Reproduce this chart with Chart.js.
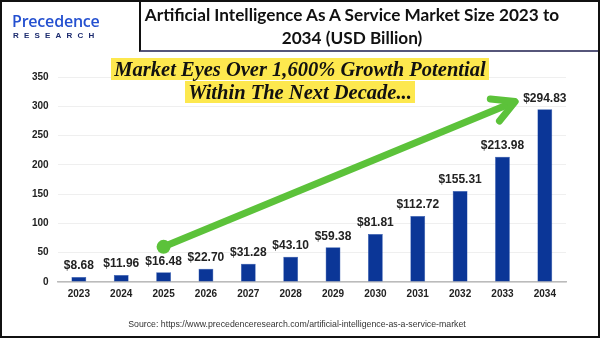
<!DOCTYPE html>
<html>
<head>
<meta charset="utf-8">
<script src="https://cdn.jsdelivr.net/npm/chart.js@4.4.1/dist/chart.umd.min.js"></script>
<style>
    html, body { margin: 0; padding: 0; background: #fff; }
    #wrap { position: relative; width: 600px; height: 338px; overflow: hidden; background: #fff; }
    #frame { position: absolute; left: 0; top: 0; width: 600px; height: 338px; box-sizing: border-box; border: 2px solid #111; pointer-events: none; }
    #titleBox { position: absolute; left: 139px; top: 0; width: 461px; height: 52px; box-sizing: border-box; border-left: 2px solid #111; border-bottom: 2px solid #56567a; }
    #title { position: absolute; left: 104px; top: 3px; width: 496px; text-align: center; font-family: Lato, sans-serif; font-weight: 700; font-size: 17.2px; line-height: 23px; color: #111; }
    #logo1 { position: absolute; left: 12px; top: 11px; font-family: "Open Sans", sans-serif; font-weight: 600; font-size: 16px; line-height: 20px; color: #2450d0; letter-spacing: -0.2px; }
    #logo2 { position: absolute; left: 13px; top: 31px; font-family: "Liberation Sans", sans-serif; font-weight: 700; font-size: 8px; line-height: 9px; color: #1b2a6e; letter-spacing: 5.2px; }
    #banner { position: absolute; left: 0; top: 58px; width: 600px; text-align: center; font-family: "Liberation Serif", serif; font-style: italic; font-weight: 700; font-size: 20.5px; line-height: 23px; color: #111; }
    #banner span { background: #fde84e; padding: 0 3px; }
    #source { position: absolute; left: 0; top: 319px; width: 594px; text-align: center; font-family: "Liberation Sans", sans-serif; font-size: 8.75px; color: #333; }
    canvas { position: absolute; left: 0; top: 0; }
</style>
</head>
<body>
<div id="wrap">
    <canvas id="marketChart" width="600" height="338"></canvas>
    <div id="titleBox"></div>
    <div id="logo1">Precedence</div>
    <div id="logo2">RESEARCH</div>
    <div id="title">Artificial Intelligence As A Service Market Size 2023 to<br>2034 (USD Billion)</div>
    <div id="banner"><span>Market Eyes Over 1,600% Growth Potential</span><br><span>Within The Next Decade...</span></div>
    <div id="source">Source: https://www.precedenceresearch.com/artificial-intelligence-as-a-service-market</div>
    <div id="frame"></div>
</div>
<script>
const years = ["2023", "2024", "2025", "2026", "2027", "2028", "2029", "2030", "2031", "2032", "2033", "2034"];
const marketSize = [8.68, 11.96, 16.48, 22.70, 31.28, 43.10, 59.38, 81.81, 112.72, 155.31, 213.98, 294.83];
const yTicks = [0, 50, 100, 150, 200, 250, 300, 350];
// growth arrow, in data units (category index, value)
const arrowFrom = [2, 60];
const arrowTo = [10.3, 308];

// value labels above each bar
const barLabels = {
    id: "barLabels",
    afterDatasetsDraw(chart) {
        const ctx = chart.ctx;
        const meta = chart.getDatasetMeta(0);
        ctx.save();
        ctx.font = "bold 12px 'Liberation Sans', Arial, sans-serif";
        ctx.fillStyle = "#222";
        ctx.textAlign = "center";
        ctx.textBaseline = "bottom";
        meta.data.forEach((bar, i) => {
            ctx.fillText("$" + marketSize[i].toFixed(2), bar.x, bar.y - 5);
        });
        ctx.restore();
    }
};

// green arrow
const growthArrow = {
    id: "growthArrow",
    afterDatasetsDraw(chart) {
        const ctx = chart.ctx;
        const xs = chart.scales.x, ys = chart.scales.y;
        const x1 = xs.getPixelForValue(arrowFrom[0]), y1 = ys.getPixelForValue(arrowFrom[1]);
        const x2 = xs.getPixelForValue(arrowTo[0]), y2 = ys.getPixelForValue(arrowTo[1]);
        const ang = Math.atan2(y2 - y1, x2 - x1);
        const back = ang + Math.PI;
        const len = 25, spread = 0.5;
        ctx.save();
        ctx.strokeStyle = "#5cc23a";
        ctx.fillStyle = "#5cc23a";
        ctx.lineWidth = 7;
        ctx.lineCap = "round";
        ctx.lineJoin = "round";
        ctx.beginPath();
        ctx.moveTo(x1, y1);
        ctx.lineTo(x2 - 3 * Math.cos(ang), y2 - 3 * Math.sin(ang));
        ctx.stroke();
        ctx.beginPath();
        ctx.moveTo(x2 + len * Math.cos(back - spread), y2 + len * Math.sin(back - spread));
        ctx.lineTo(x2, y2);
        ctx.lineTo(x2 + len * Math.cos(back + spread), y2 + len * Math.sin(back + spread));
        ctx.stroke();
        ctx.beginPath();
        ctx.arc(x1, y1, 7, 0, Math.PI * 2);
        ctx.fill();
        ctx.restore();
    }
};

const ctx = document.getElementById("marketChart");
new Chart(ctx, {
    type: "bar",
    data: {
        labels: years,
        datasets: [{
            label: "Market Size",
            data: marketSize,
            backgroundColor: "#0b3697",
            borderColor: "#2a55b0",
            borderWidth: 0.5,
            categoryPercentage: 1,
            barPercentage: 0.35
        }]
    },
    options: {
        responsive: false,
        animation: false,
        devicePixelRatio: 1,
        layout: { padding: { top: 77, left: 23, right: 34, bottom: 32 } },
        plugins: {
            legend: { display: false },
            tooltip: { enabled: false }
        },
        scales: {
            x: {
                grid: { display: false, drawTicks: false },
                border: { color: "#bbb", width: 1.5 },
                ticks: { color: "#222", padding: 6, font: { family: "'Liberation Sans', Arial, sans-serif", size: 10, weight: "bold" } }
            },
            y: {
                min: 0,
                max: 350,
                afterBuildTicks: (axis) => { axis.ticks = yTicks.map(v => ({ value: v })); },
                grid: { color: "#efefef", drawTicks: false },
                border: { display: false },
                ticks: { color: "#222", padding: 9, font: { family: "'Liberation Sans', Arial, sans-serif", size: 10, weight: "bold" } }
            }
        }
    },
    plugins: [barLabels, growthArrow]
});
</script>
</body>
</html>
